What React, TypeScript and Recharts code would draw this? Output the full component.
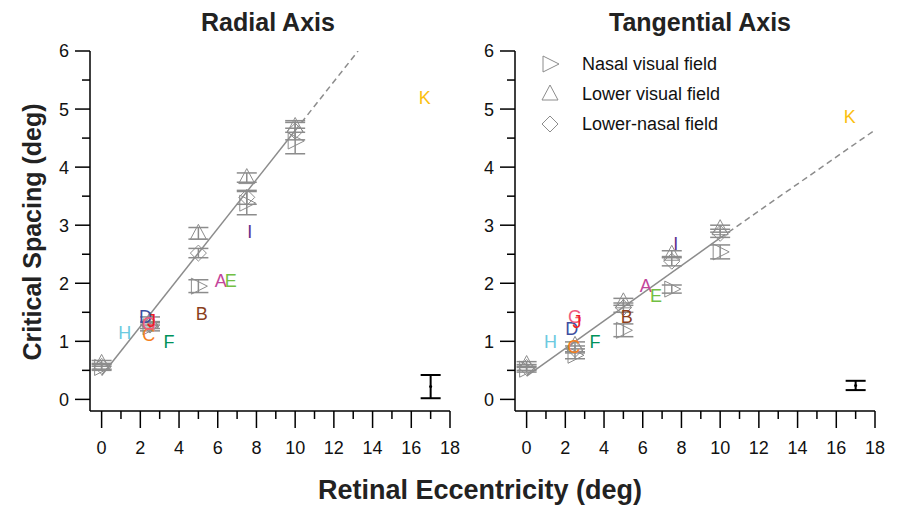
import { ScatterChart, Scatter, XAxis, YAxis, ErrorBar } from "recharts";

// eccentricities where thresholds were measured (deg)
const ECC = [0, 2.5, 5, 7.5, 10];

const X_TICKS = [0, 1, 2, 3, 4, 5, 6, 7, 8, 9, 10, 11, 12, 13, 14, 15, 16, 17, 18];
const Y_TICKS = [0, 0.5, 1, 1.5, 2, 2.5, 3, 3.5, 4, 4.5, 5, 5.5, 6];

// radial axis
const radialNasal = [0.55, 1.25, 1.95, 3.38, 4.45];
const radialNasalErr = [0.05, 0.07, 0.11, 0.2, 0.22];
const radialLower = [0.62, 1.35, 2.86, 3.82, 4.7];
const radialLowerErr = [0.05, 0.07, 0.1, 0.08, 0.1];
const radialDiag = [0.57, 1.28, 2.52, 3.48, 4.62];
const radialDiagErr = [0.05, 0.06, 0.08, 0.12, 0.15];

// tangential axis
const tangNasal = [0.52, 0.76, 1.19, 1.9, 2.54];
const tangNasalErr = [0.05, 0.06, 0.11, 0.07, 0.12];
const tangLower = [0.6, 0.93, 1.68, 2.5, 2.94];
const tangLowerErr = [0.05, 0.06, 0.06, 0.06, 0.06];
const tangDiag = [0.55, 0.86, 1.58, 2.38, 2.86];
const tangDiagErr = [0.05, 0.06, 0.08, 0.08, 0.07];

// individual observers
const LETTERS = ["A", "B", "C", "D", "E", "F", "G", "H", "I", "J", "K"];
const radialLetterX = [6.15, 5.17, 2.44, 2.27, 6.67, 3.48, 2.44, 1.19, 7.65, 2.58, 16.7];
const radialLetterY = [2.04, 1.47, 1.12, 1.43, 2.04, 1.0, 1.31, 1.14, 2.88, 1.36, 5.19];
const tangLetterX = [6.15, 5.17, 2.44, 2.33, 6.68, 3.53, 2.5, 1.24, 7.7, 2.6, 16.7];
const tangLetterY = [1.95, 1.43, 0.9, 1.22, 1.78, 1.0, 1.42, 1.0, 2.68, 1.33, 4.86];

const LETTER_COLORS: Record<string, string> = {
  A: "#c3449a",
  B: "#8a3f1c",
  C: "#f4801f",
  D: "#3c4ea0",
  E: "#72bf44",
  F: "#00925a",
  G: "#f05a7e",
  H: "#6dcae0",
  I: "#5c2d8e",
  J: "#ec1c24",
  K: "#fbc010",
};

// fitted lines (solid over measured range, dashed extrapolation)
const radialFitX = [0, 10, 13.25];
const radialFitY = [0.41, 4.63, 6.0];
const tangFitX = [0, 10, 18];
const tangFitY = [0.4, 2.78, 4.64];

// typical error bar
const radialSample = { x: 17, y: 0.22, err: 0.2 };
const tangSample = { x: 17, y: 0.24, err: 0.08 };

const GREY = "#8c8c8c";

const pts = (ys: number[], errs: number[]) =>
  ECC.map((x, i) => ({ x, y: ys[i], err: errs[i] }));

const RightTri = (p: any) => (
  <polygon
    points={`${p.cx - 7},${p.cy - 8} ${p.cx + 9},${p.cy} ${p.cx - 7},${p.cy + 8}`}
    fill="none"
    stroke={GREY}
    strokeWidth={1}
  />
);
const UpTri = (p: any) => (
  <polygon
    points={`${p.cx},${p.cy - 9} ${p.cx + 8},${p.cy + 6} ${p.cx - 8},${p.cy + 6}`}
    fill="none"
    stroke={GREY}
    strokeWidth={1}
  />
);
const Diamond = (p: any) => (
  <polygon
    points={`${p.cx},${p.cy - 8} ${p.cx + 8},${p.cy} ${p.cx},${p.cy + 8} ${p.cx - 8},${p.cy}`}
    fill="none"
    stroke={GREY}
    strokeWidth={1}
  />
);
const Letter = (p: any) => (
  <text
    x={p.cx}
    y={p.cy}
    dy="0.35em"
    textAnchor="middle"
    fontSize={18}
    fill={LETTER_COLORS[p.payload.label]}
  >
    {p.payload.label}
  </text>
);
const Dot = (p: any) => <circle cx={p.cx} cy={p.cy} r={1.5} fill="#000" />;
const NoShape = () => <g />;

const XTick = (props: any) => {
  const { x, y, payload } = props;
  const major = payload.value % 2 === 0;
  return (
    <g>
      <line x1={x} y1={y} x2={x} y2={y + (major ? 17 : 8)} stroke="#000" strokeWidth={1.5} />
      {major && (
        <text x={x} y={y + 43} textAnchor="middle" fontSize={18} fill="#111">
          {payload.value}
        </text>
      )}
    </g>
  );
};

const YTick = (props: any) => {
  const { x, y, payload } = props;
  const major = Number.isInteger(payload.value);
  return (
    <g>
      <line x1={x - (major ? 15 : 8)} y1={y} x2={x} y2={y} stroke="#000" strokeWidth={1.5} />
      {major && (
        <text x={x - 21} y={y} dy="0.36em" textAnchor="end" fontSize={18} fill="#111">
          {payload.value}
        </text>
      )}
    </g>
  );
};

interface PanelProps {
  left: number;
  width: number;
  plotLeft: number;
  plotRight: number;
  nasal: number[];
  nasalErr: number[];
  lower: number[];
  lowerErr: number[];
  diag: number[];
  diagErr: number[];
  letterX: number[];
  letterY: number[];
  fitX: number[];
  fitY: number[];
  sample: { x: number; y: number; err: number };
}

function Panel(p: PanelProps) {
  const letters = LETTERS.map((label, i) => ({ label, x: p.letterX[i], y: p.letterY[i] }));
  const solid = p.fitX.slice(0, 2).map((x, i) => ({ x, y: p.fitY[i] }));
  const dashed = p.fitX.slice(1).map((x, i) => ({ x, y: p.fitY[i + 1] }));
  const errBar = { stroke: GREY, strokeWidth: 1.5 };

  return (
    <div style={{ position: "absolute", left: p.left, top: 0 }}>
      <ScatterChart
        width={p.width}
        height={506}
        margin={{ top: 51, left: p.plotLeft - 40, right: p.width - p.plotRight, bottom: 65 }}
      >
        <XAxis
          type="number"
          dataKey="x"
          domain={[-0.6, 18]}
          ticks={X_TICKS}
          interval={0}
          height={30}
          tickSize={0}
          tickMargin={0}
          tickLine={false}
          tick={<XTick />}
          axisLine={{ stroke: "#000", strokeWidth: 1.5 }}
          allowDataOverflow
        />
        <YAxis
          type="number"
          dataKey="y"
          domain={[-0.2, 6]}
          ticks={Y_TICKS}
          interval={0}
          width={40}
          tickSize={0}
          tickMargin={0}
          tickLine={false}
          tick={<YTick />}
          axisLine={{ stroke: "#000", strokeWidth: 1.5 }}
          allowDataOverflow
        />
        <Scatter data={solid} line={{ stroke: GREY, strokeWidth: 1.5 }} shape={NoShape} isAnimationActive={false} />
        <Scatter
          data={dashed}
          line={{ stroke: GREY, strokeWidth: 1.5, strokeDasharray: "6 4" }}
          shape={NoShape}
          isAnimationActive={false}
        />
        <Scatter data={pts(p.nasal, p.nasalErr)} shape={RightTri} isAnimationActive={false}>
          <ErrorBar dataKey="err" direction="y" width={10} {...errBar} />
        </Scatter>
        <Scatter data={pts(p.lower, p.lowerErr)} shape={UpTri} isAnimationActive={false}>
          <ErrorBar dataKey="err" direction="y" width={10} {...errBar} />
        </Scatter>
        <Scatter data={pts(p.diag, p.diagErr)} shape={Diamond} isAnimationActive={false}>
          <ErrorBar dataKey="err" direction="y" width={10} {...errBar} />
        </Scatter>
        <Scatter data={[p.sample]} shape={Dot} isAnimationActive={false}>
          <ErrorBar dataKey="err" direction="y" width={10} stroke="#000" strokeWidth={2} />
        </Scatter>
        <Scatter data={letters} shape={Letter} isAnimationActive={false} />
      </ScatterChart>
    </div>
  );
}

const LEGEND = ["Nasal visual field", "Lower visual field", "Lower-nasal field"];
const LEGEND_SHAPES = [RightTri, UpTri, Diamond];

export default function App() {
  return (
    <div
      style={{
        position: "relative",
        width: 899,
        height: 506,
        background: "#fff",
        fontFamily: "'Liberation Sans', Arial, Helvetica, sans-serif",
      }}
    >
      <style>{`body{margin:0}`}</style>
      <Panel
        left={0}
        width={470}
        plotLeft={90}
        plotRight={450}
        nasal={radialNasal}
        nasalErr={radialNasalErr}
        lower={radialLower}
        lowerErr={radialLowerErr}
        diag={radialDiag}
        diagErr={radialDiagErr}
        letterX={radialLetterX}
        letterY={radialLetterY}
        fitX={radialFitX}
        fitY={radialFitY}
        sample={radialSample}
      />
      <Panel
        left={470}
        width={429}
        plotLeft={45}
        plotRight={405}
        nasal={tangNasal}
        nasalErr={tangNasalErr}
        lower={tangLower}
        lowerErr={tangLowerErr}
        diag={tangDiag}
        diagErr={tangDiagErr}
        letterX={tangLetterX}
        letterY={tangLetterY}
        fitX={tangFitX}
        fitY={tangFitY}
        sample={tangSample}
      />
      <svg
        width={899}
        height={506}
        style={{ position: "absolute", left: 0, top: 0, pointerEvents: "none" }}
      >
        <g fontWeight="bold" fill="#222" textAnchor="middle">
          <text x={268} y={31} fontSize={25}>Radial Axis</text>
          <text x={700} y={31} fontSize={25}>Tangential Axis</text>
          <text x={480} y={499} fontSize={27}>Retinal Eccentricity (deg)</text>
          <text x={41} y={232} fontSize={25} transform="rotate(-90 41 232)">
            Critical Spacing (deg)
          </text>
        </g>
        {LEGEND.map((label, i) => {
          const Shape = LEGEND_SHAPES[i];
          const cy = 64 + i * 30;
          return (
            <g key={label}>
              <Shape cx={550} cy={cy} />
              <text x={582} y={cy} dy="0.36em" fontSize={18} fill="#111">
                {label}
              </text>
            </g>
          );
        })}
      </svg>
    </div>
  );
}
